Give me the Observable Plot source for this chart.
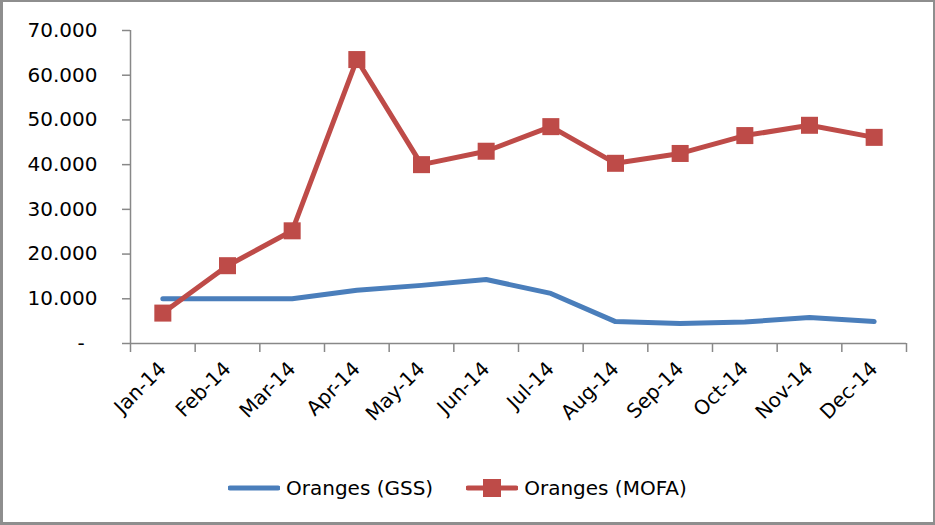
<!DOCTYPE html>
<html>
<head>
<meta charset="utf-8">
<script src="https://cdn.jsdelivr.net/npm/d3@7"></script>
<script src="https://cdn.jsdelivr.net/npm/@observablehq/plot@0.6"></script>
<style>
  html, body { margin: 0; padding: 0; background: #fff; }
  #wrap { position: relative; width: 935px; height: 525px; overflow: hidden; font-family: "DejaVu Sans", sans-serif; }
  #frame { position: absolute; left: 0; top: 0; width: 935px; height: 525px; box-sizing: border-box; border: 2px solid #8e8e8e; border-left-width: 3px; border-bottom-width: 3px; pointer-events: none; }
  #legend { position: absolute; left: 228px; top: 474px; display: flex; align-items: center; font-size: 20px; color: #000; }
  .item { display: flex; align-items: center; }
</style>
</head>
<body>
<div id="wrap">
  <div id="chart"></div>
  <div id="legend"></div>
  <div id="frame"></div>
</div>
<script>
const months = ["Jan-14","Feb-14","Mar-14","Apr-14","May-14","Jun-14","Jul-14","Aug-14","Sep-14","Oct-14","Nov-14","Dec-14"];
const gss  = [10000, 10000, 10000, 11900, 13000, 14300, 11200, 4900, 4500, 4800, 5800, 4900];
const mofa = [6800, 17400, 25200, 63500, 40000, 43000, 48500, 40300, 42500, 46500, 48800, 46100];
const seriesNames = ["Oranges (GSS)", "Oranges (MOFA)"];
const yTicks = [0, 10000, 20000, 30000, 40000, 50000, 60000, 70000];
const colors = ["#4a7ebb", "#be4b48"];

const gssData = months.map((m, i) => ({i: i + 0.5, v: gss[i]}));
const mofaData = months.map((m, i) => ({i: i + 0.5, v: mofa[i]}));

const fmt = d => d === 0 ? "-\u00a0\u00a0" : d3.format(",")(d).replace(/,/g, ".");

const plot = Plot.plot({
  width: 935,
  height: 470,
  marginLeft: 130,
  marginRight: 29,
  marginTop: 30,
  marginBottom: 127,
  style: {fontFamily: "DejaVu Sans, sans-serif", fontSize: "20px", color: "#000", background: "transparent"},
  x: {type: "linear", domain: [0, 12], axis: null, label: null},
  y: {domain: [0, 70000], axis: null, label: null},
  marks: [
    Plot.axisY({ticks: yTicks, tickFormat: fmt, tickSize: 8, tickPadding: 25, stroke: "#888", strokeWidth: 1.5, fill: "#000", fontSize: 20, strokeOpacity: 1, label: null}),
    Plot.ruleX([0], {stroke: "#888", strokeWidth: 1.5}),
    Plot.axisX({ticks: d3.range(13), tickFormat: () => "", tickSize: 9, stroke: "#888", strokeWidth: 1.5, strokeOpacity: 1, label: null}),
    Plot.ruleY([0], {stroke: "#888", strokeWidth: 1.5}),
    Plot.axisX({ticks: d3.range(12).map(i => i + 0.5), tickFormat: d => months[Math.round(d - 0.5)], tickSize: 0, tickRotate: -45, tickPadding: 22, fontSize: 20, fill: "#000", label: null}),
    Plot.line(gssData, {x: "i", y: "v", stroke: colors[0], strokeWidth: 5, strokeLinecap: "round", strokeLinejoin: "round"}),
    Plot.line(mofaData, {x: "i", y: "v", stroke: colors[1], strokeWidth: 5, strokeLinejoin: "round"}),
    Plot.dot(mofaData, {x: "i", y: "v", symbol: "square", r: 9.6, fill: colors[1], stroke: null})
  ]
});
document.getElementById("chart").appendChild(plot);

// legend
const legend = document.getElementById("legend");
seriesNames.forEach((name, k) => {
  const item = document.createElement("div");
  item.className = "item";
  item.style.marginRight = k === 0 ? "33px" : "0";
  const svg = d3.create("svg").attr("width", 52).attr("height", 28).style("margin-right", "6px");
  svg.append("line").attr("x1", 2).attr("x2", 50).attr("y1", 14).attr("y2", 14)
    .attr("stroke", colors[k]).attr("stroke-width", 5).attr("stroke-linecap", "round");
  if (k === 1) svg.append("rect").attr("x", 17).attr("y", 5).attr("width", 18).attr("height", 18).attr("fill", colors[k]);
  item.appendChild(svg.node());
  const span = document.createElement("span");
  span.textContent = name;
  item.appendChild(span);
  legend.appendChild(item);
});
</script>
</body>
</html>
